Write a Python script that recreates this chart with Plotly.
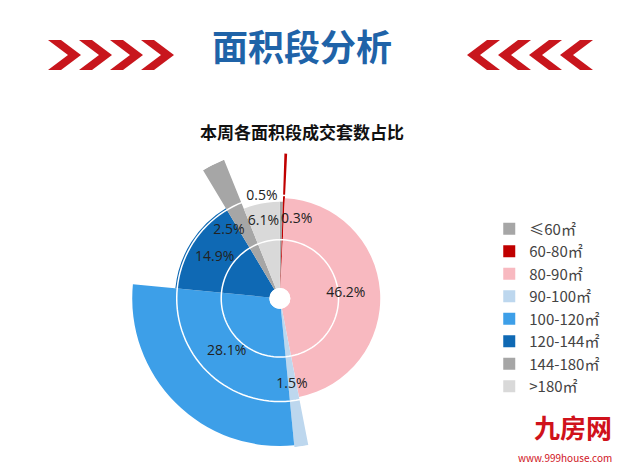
import plotly.graph_objects as go

categories = ["≤60㎡", "60-80㎡", "80-90㎡", "90-100㎡", "100-120㎡", "120-144㎡", "144-180㎡", ">180㎡"]
shares = [0.5, 0.3, 46.2, 1.5, 28.1, 14.9, 2.5, 6.1]
radii = [93, 145, 97, 150, 148, 102, 150, 93]
colors = ["#a6a6a6", "#c00000", "#f8b9c0", "#bdd7ee", "#3d9fe8", "#0f69b4", "#a6a6a6", "#d9d9d9"]
labels = ["0.5%", "0.3%", "46.2%", "1.5%", "28.1%", "14.9%", "2.5%", "6.1%"]
grid_r = [52, 100]

total = sum(shares)
widths = [s / total * 360 for s in shares]
thetas = []
acc = 0
for w in widths:
    thetas.append(acc + w / 2)
    acc += w

fig = go.Figure()
for i, c in enumerate(categories):
    fig.add_trace(go.Barpolar(r=[radii[i]], theta=[thetas[i]], width=[widths[i]], name=c,
                              marker=dict(color=colors[i], line=dict(width=0))))
circ_t = list(range(0, 361, 3))
for g in grid_r:
    fig.add_trace(go.Scatterpolar(r=[g] * len(circ_t), theta=circ_t, mode="lines", showlegend=False,
                                  line=dict(color="white", width=1.5), hoverinfo="skip"))
lab_r = [100, 76, 60, 82, 70, 72, 80, 74]
lab_t = [-10, 12, thetas[2], 172, thetas[4], thetas[5], -37, -12]
fig.add_trace(go.Scatterpolar(r=lab_r, theta=lab_t, mode="text", text=labels, showlegend=False,
                              textfont=dict(size=14, color="#222", family="Open Sans")))

fig.update_layout(
    width=625, height=465, margin=dict(l=0, r=0, t=0, b=0),
    paper_bgcolor="white", plot_bgcolor="white",
    font=dict(family="Noto Sans CJK SC"),
    polar=dict(
        domain=dict(x=[0.195, 0.675], y=[0.054, 0.697]),
        hole=0.07, bgcolor="rgba(0,0,0,0)",
        radialaxis=dict(range=[0, 150], showticklabels=False, ticks="", showgrid=False, showline=False),
        angularaxis=dict(rotation=90, direction="clockwise", showgrid=False, showticklabels=False,
                         ticks="", showline=False),
    ),
    legend=dict(x=0.77, y=0.56, xanchor="left", yanchor="top", font=dict(size=15, color="#444"),
                tracegroupgap=0, itemwidth=30, bgcolor="rgba(0,0,0,0)"),
)

def chev(x, d):
    w, h, t = 20, 15, 13
    if d > 0:
        pts = [(x, -h), (x + t, -h), (x + t + w, 0), (x + t, h), (x, h), (x + w, 0)]
    else:
        pts = [(x, -h), (x - t, -h), (x - t - w, 0), (x - t, h), (x, h), (x - w, 0)]
    path = " ".join(("M" if k == 0 else "L") + f"{px/625:.4f},{(465-47-py)/465:.4f}" for k, (px, py) in enumerate(pts)) + " Z"
    return dict(type="path", path=path, xref="paper", yref="paper", fillcolor="#c8161d", line=dict(width=0))

shapes = []
for k in range(4):
    shapes.append(chev(40 + k * 31, 1))
    shapes.append(chev(585 - k * 31, -1))
fig.update_layout(shapes=shapes)

fig.add_annotation(x=0.47, y=(465 - 9) / 465, xref="paper", yref="paper", text="<b>面积段分析</b>",
                   showarrow=False, font=dict(size=36, color="#1f63a8", family="Noto Sans CJK SC"))
fig.add_annotation(x=0.47, y=(465 - 109) / 465, xref="paper", yref="paper", text="<b>本周各面积段成交套数占比</b>",
                   showarrow=False, font=dict(size=17, color="#111", family="Noto Sans CJK SC"))
fig.add_annotation(x=0.97, y=0.055, xref="paper", yref="paper", xanchor="right", text="<b>九房网</b>",
                   showarrow=False, font=dict(size=26, color="#d0121b", family="Noto Sans CJK SC"))
fig.add_annotation(x=0.97, y=0.012, xref="paper", yref="paper", xanchor="right", text="www.999house.com",
                   showarrow=False, font=dict(size=10, color="#d0121b"))

fig.write_html("out.html")
